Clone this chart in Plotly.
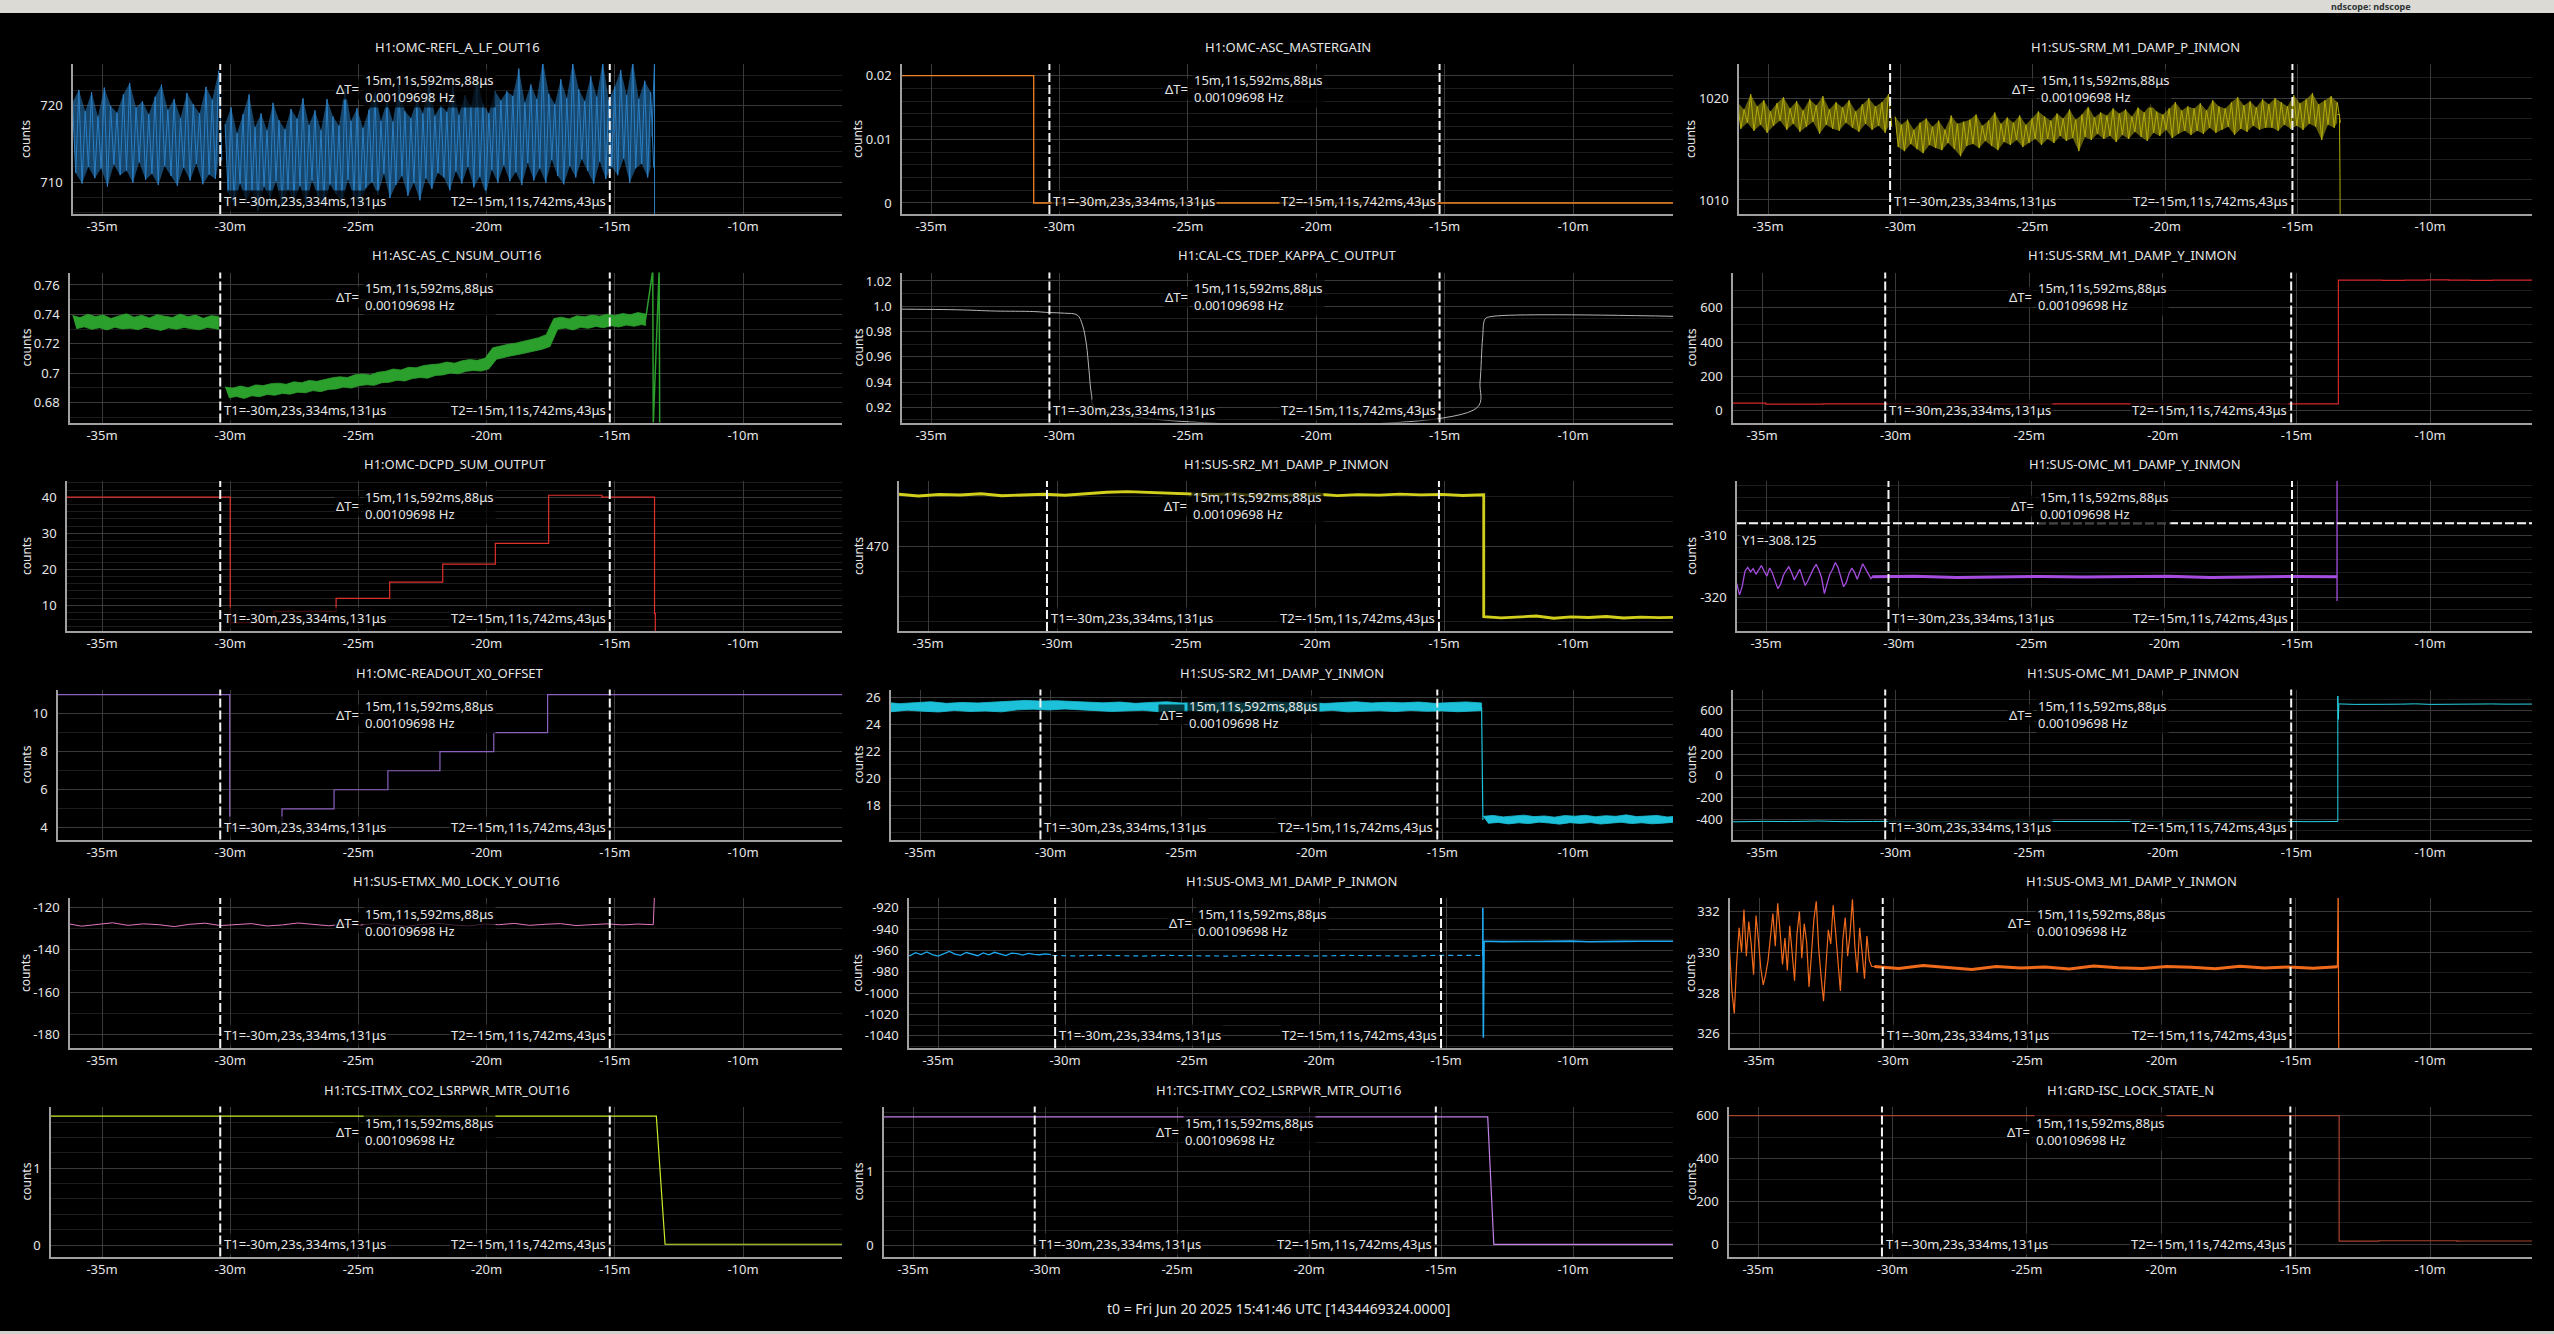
import numpy as np
import plotly.graph_objects as go

W, H = 2554, 1334

# ============================ DATA (time in minutes relative to t0) ============================
T1_MIN = -30.3889   # T1 = -30m,23s,334ms,131us
T2_MIN = -15.1957   # T2 = -15m,11s,742ms,43us
T1_LABEL = "T1=-30m,23s,334ms,131μs"
T2_LABEL = "T2=-15m,11s,742ms,43μs"
DT_LABEL = "15m,11s,592ms,88μs<br>0.00109698 Hz"
Y1_VALUE = -308.125
Y1_LABEL = "Y1=-308.125"
T0_LABEL = "t0 = Fri Jun 20 2025 15:41:46 UTC [1434469324.0000]"

X_TICK_VALS = [-35, -30, -25, -20, -15, -10]
X_TICK_TEXT = ["-35m", "-30m", "-25m", "-20m", "-15m", "-10m"]

TITLES = ["H1:OMC-REFL_A_LF_OUT16", "H1:OMC-ASC_MASTERGAIN", "H1:SUS-SRM_M1_DAMP_P_INMON",
          "H1:ASC-AS_C_NSUM_OUT16", "H1:CAL-CS_TDEP_KAPPA_C_OUTPUT", "H1:SUS-SRM_M1_DAMP_Y_INMON",
          "H1:OMC-DCPD_SUM_OUTPUT", "H1:SUS-SR2_M1_DAMP_P_INMON", "H1:SUS-OMC_M1_DAMP_Y_INMON",
          "H1:OMC-READOUT_X0_OFFSET", "H1:SUS-SR2_M1_DAMP_Y_INMON", "H1:SUS-OMC_M1_DAMP_P_INMON",
          "H1:SUS-ETMX_M0_LOCK_Y_OUT16", "H1:SUS-OM3_M1_DAMP_P_INMON", "H1:SUS-OM3_M1_DAMP_Y_INMON",
          "H1:TCS-ITMX_CO2_LSRPWR_MTR_OUT16", "H1:TCS-ITMY_CO2_LSRPWR_MTR_OUT16", "H1:GRD-ISC_LOCK_STATE_N"]

Y_TICK_TEXT = [["710", "720"], ["0", "0.01", "0.02"], ["1010", "1020"],
               ["0.68", "0.7", "0.72", "0.74", "0.76"], ["0.92", "0.94", "0.96", "0.98", "1.0", "1.02"],
               ["0", "200", "400", "600"],
               ["10", "20", "30", "40"], ["470"], ["-320", "-310"],
               ["4", "6", "8", "10"], ["18", "20", "22", "24", "26"], ["-400", "-200", "0", "200", "400", "600"],
               ["-180", "-160", "-140", "-120"], ["-1040", "-1020", "-1000", "-980", "-960", "-940", "-920"],
               ["326", "328", "330", "332"],
               ["0", "1"], ["0", "1"], ["0", "200", "400", "600"]]

Y_RANGES = [[705.8, 725.5], [-0.00173, 0.02184], [1008.62, 1023.37],
            [0.6664, 0.7685], [0.908, 1.0267], [-69, 805],
            [2.86, 44.5], [463.2, 475.2], [-325.4, -301.33],
            [3.385, 11.27], [15.46, 26.6], [-586, 795],
            [-186.4, -115.6], [-1051.5, -910.9], [325.3, 332.66],
            [-0.15, 1.806], [-0.145, 1.88], [-57.4, 642.5]]

# --- H1:OMC-REFL_A_LF_OUT16 (per-bin high / low extremes)
refl_a_hi = [720.5, 722.1, 719.3, 721.8, 718.6, 722.4, 720.0, 719.1, 721.5, 723.0, 719.8, 720.6,
             718.9, 721.2, 722.8, 719.5, 720.9, 718.4, 721.7, 720.2, 719.0, 722.5, 720.8, 724.6]
refl_a_lo = [711.2, 709.8, 712.0, 710.5, 711.8, 709.4, 712.3, 710.9, 711.5, 709.9, 712.6, 710.3,
             711.1, 709.6, 712.1, 710.8, 709.5, 711.9, 710.2, 712.4, 709.7, 711.0, 710.4, 712.8]
refl_b_hi = [717.6, 719.8, 716.4, 718.9, 721.5, 717.2, 719.0, 716.8, 720.4, 718.1, 716.9, 719.6,
             718.3, 721.0, 717.5, 719.4, 716.8, 720.9, 718.6, 717.4, 722.3, 718.0, 719.7, 717.1,
             719.5, 721.8, 718.0, 720.6, 717.9, 722.9, 719.3, 718.4, 720.8, 719.0, 723.4, 718.7,
             720.1, 719.2, 722.6, 718.8, 721.4, 719.9, 723.8, 720.3, 719.0, 722.0, 720.7, 721.9,
             721.3, 724.9, 720.4, 722.8, 720.9, 726.0, 721.6, 720.2, 723.5, 721.0, 725.8, 722.2,
             720.6, 723.9, 721.2, 725.9, 720.8, 722.5, 724.7, 721.4, 726.0, 720.9, 723.3, 721.8]
refl_b_lo = [708.6, 706.9, 709.8, 707.5, 708.9, 706.2, 709.4, 707.8, 710.1, 706.7, 709.0, 707.3,
             709.5, 707.0, 710.2, 708.1, 706.8, 709.7, 708.4, 707.2, 710.3, 708.0, 706.9, 709.2,
             710.0, 708.3, 711.1, 707.9, 709.6, 710.8, 708.2, 709.9, 707.6, 710.5, 709.1, 711.2,
             710.6, 708.9, 711.4, 709.8, 712.0, 709.3, 710.7, 708.4, 711.6, 709.9, 712.2, 710.1,
             711.3, 709.6, 712.5, 710.2, 711.8, 709.9, 712.9, 710.8, 709.7, 712.1, 710.6, 713.0,
             711.5, 709.8, 712.7, 710.4, 712.0, 710.9, 713.1, 709.9, 711.8, 712.4, 710.6, 711.9]
refl_end_t = [-13.55, -13.45, -13.45]
refl_end_v = [716.0, 726.0, 705.5]

# --- H1:OMC-ASC_MASTERGAIN
gain_t = [-37.0, -31.0, -6.0]
gain_v = [0.02, 0.0, 0.0]

# --- H1:SUS-SRM_M1_DAMP_P_INMON
srmp_a_hi = [1019.6, 1018.9, 1020.4, 1019.2, 1019.8, 1018.7, 1019.5, 1020.1, 1019.0, 1019.7, 1018.8, 1019.9,
             1019.3, 1020.2, 1018.9, 1019.6, 1019.1, 1019.8, 1018.7, 1019.4, 1020.0, 1019.2, 1019.6, 1020.4]
srmp_a_lo = [1017.0, 1017.6, 1016.8, 1017.4, 1016.6, 1017.3, 1017.8, 1016.9, 1017.5, 1016.7, 1017.2, 1017.7,
             1016.5, 1017.4, 1017.0, 1016.8, 1017.6, 1017.1, 1016.7, 1017.5, 1016.9, 1017.3, 1016.6, 1017.2]
srmp_b_hi = [1018.2, 1017.4, 1017.9, 1016.9, 1017.6, 1018.0, 1017.2, 1017.8, 1016.9, 1018.3, 1017.5, 1017.7,
             1017.9, 1018.4, 1017.3, 1017.8, 1018.6, 1017.5, 1018.1, 1017.6, 1018.3, 1017.4, 1018.0, 1018.7,
             1018.2, 1017.8, 1018.5, 1018.0, 1018.9, 1017.9, 1018.4, 1019.2, 1018.1, 1018.6, 1018.3, 1019.0,
             1018.5, 1018.9, 1018.2, 1019.1, 1018.6, 1019.4, 1018.7, 1018.4, 1019.0, 1019.6, 1018.8, 1019.2,
             1019.0, 1019.5, 1018.8, 1019.8, 1019.2, 1019.0, 1019.6, 1020.1, 1019.3, 1019.7, 1019.1, 1019.9,
             1019.4, 1020.0, 1019.6, 1019.2, 1020.3, 1019.5, 1019.9, 1020.5, 1019.4, 1019.8, 1020.2, 1019.6]
srmp_b_lo = [1015.2, 1014.8, 1015.5, 1015.0, 1014.6, 1015.4, 1015.1, 1014.9, 1015.6, 1015.0, 1014.3, 1015.3,
             1015.5, 1015.1, 1015.8, 1015.3, 1014.9, 1015.7, 1015.4, 1015.9, 1015.2, 1015.6, 1016.0, 1015.4,
             1016.0, 1015.6, 1016.3, 1015.8, 1016.1, 1014.8, 1016.2, 1015.9, 1016.5, 1016.0, 1016.3, 1015.7,
             1016.4, 1016.0, 1016.7, 1016.2, 1015.8, 1016.6, 1016.3, 1016.9, 1016.1, 1016.5, 1016.8, 1016.4,
             1016.8, 1016.5, 1017.1, 1016.6, 1016.9, 1017.2, 1016.4, 1017.0, 1016.7, 1017.3, 1016.9, 1017.1,
             1017.1, 1016.8, 1017.4, 1017.0, 1017.3, 1016.9, 1017.5, 1017.2, 1015.9, 1017.4, 1017.1, 1017.6]
srmp_end_t = [-13.5, -13.42, -13.40, -13.38]
srmp_end_v = [1018.4, 1018.4, 1012.6, 1000.0]

# --- H1:ASC-AS_C_NSUM_OUT16
nsum_a_hi = [0.7392, 0.7378, 0.7401, 0.7385, 0.7396, 0.7372, 0.7389, 0.7404, 0.7381, 0.7394,
             0.7376, 0.7398, 0.7387, 0.7379, 0.7402, 0.7384, 0.7395, 0.7373, 0.7391, 0.7386]
nsum_a_lo = [0.7302, 0.7315, 0.7298, 0.7309, 0.7294, 0.7312, 0.7301, 0.7306, 0.7296, 0.7313,
             0.7303, 0.7291, 0.7308, 0.7299, 0.7311, 0.7302, 0.7295, 0.7310, 0.7304, 0.7297]
nsum_b_hi = [0.6905, 0.6898, 0.6912, 0.6901, 0.6920, 0.6915, 0.6928,
             0.6932, 0.6924, 0.6941, 0.6935, 0.6950, 0.6944, 0.6958,
             0.6968, 0.6975, 0.6970, 0.6989, 0.6994, 0.6987, 0.7006,
             0.7012, 0.7028, 0.7021, 0.7040, 0.7036, 0.7052, 0.7058,
             0.7063, 0.7075, 0.7068, 0.7084, 0.7092, 0.7087, 0.7101,
             0.7172, 0.7185, 0.7196, 0.7204, 0.7215, 0.7228,
             0.7241, 0.7262,
             0.7372, 0.7381, 0.7369, 0.7390, 0.7384, 0.7395, 0.7388, 0.7401, 0.7392, 0.7406, 0.7398, 0.7412, 0.7403]
nsum_b_lo = [0.6832, 0.6841, 0.6828, 0.6846, 0.6839, 0.6855, 0.6849,
             0.6862, 0.6857, 0.6870, 0.6866, 0.6881, 0.6874, 0.6889,
             0.6892, 0.6905, 0.6898, 0.6914, 0.6921, 0.6917, 0.6935,
             0.6938, 0.6952, 0.6946, 0.6963, 0.6970, 0.6966, 0.6984,
             0.6988, 0.7001, 0.6995, 0.7012, 0.7018, 0.7014, 0.7029,
             0.7095, 0.7108, 0.7119, 0.7128, 0.7137, 0.7151,
             0.7163, 0.7181,
             0.7298, 0.7307, 0.7294, 0.7312, 0.7305, 0.7318, 0.7309, 0.7323, 0.7314, 0.7327, 0.7319, 0.7331, 0.7324]
nsum_end_t = [-13.8, -13.52, -13.50, -13.27, -13.25]
nsum_end_v = [0.7365, 0.770, 0.665, 0.770, 0.665]

# --- H1:CAL-CS_TDEP_KAPPA_C_OUTPUT
kappa_t = [-37.0, -34.0, -32.5, -31.0, -30.4, -29.8, -29.3, -29.1, -28.95, -28.85, -28.75, -28.6,
           -13.75, -13.62, -13.52, -13.42, -13.2, -6.0]
kappa_v = [0.9978, 0.9972, 0.9962, 0.9958, 0.9950, 0.9945, 0.9930, 0.9850, 0.9700, 0.9500, 0.9300, 0.9195,
           0.9195, 0.9400, 0.9750, 0.9900, 0.9918, 0.9920]

# --- H1:SUS-SRM_M1_DAMP_Y_INMON
srmy_pre = [44, 38, 40, 39, 41, 38, 40, 39, 40, 41, 39, 40]
srmy_post = [760, 761, 759, 760, 762, 760, 759, 761, 760, 760]

# --- H1:OMC-DCPD_SUM_OUTPUT (step changes)
dcpd_t = [-37.0, -30.0, -28.3, -25.87, -23.78, -21.71, -19.66, -17.58, -15.5, -13.45, -13.42]
dcpd_v = [40.0, 5.2, 8.33, 11.94, 16.4, 21.4, 27.2, 40.55, 40.0, 7.7, -5.0]

# --- H1:SUS-SR2_M1_DAMP_P_INMON
sr2p_pre = [474.05, 474.15, 474.0, 474.12, 474.08, 474.18, 474.02, 474.1, 474.14, 474.06, 474.2, 474.3,
            474.35, 474.28, 474.22, 474.15, 474.1, 474.18, 474.05, 474.12, 474.08, 474.16, 474.03, 474.11,
            474.07, 474.15, 474.09, 474.13, 474.04, 474.1]
sr2p_post = [464.35, 464.25, 464.3, 464.4, 464.22, 464.33, 464.28, 464.36, 464.24, 464.31, 464.27, 464.3]

# --- H1:SUS-OMC_M1_DAMP_Y_INMON
omcy_pre = [-317.8, -319.6, -318.2, -315.8, -315.2, -315.9, -315.4, -316.3, -315.6, -314.9,
            -315.8, -316.6, -315.3, -316.1, -317.4, -318.6, -317.9, -316.5, -315.7, -315.1,
            -316.0, -317.2, -316.4, -315.5, -316.8, -318.1, -317.3, -316.2, -315.4, -314.7,
            -315.6, -316.9, -319.4, -317.8, -316.3, -315.5, -314.4, -315.2, -316.7, -318.3,
            -317.6, -316.2, -315.3, -316.0, -317.1, -315.8, -314.6, -315.4, -316.2, -317.0]
omcy_flat = [-316.7, -316.6, -316.8, -316.7, -316.65, -316.75, -316.7, -316.6, -316.8, -316.7, -316.65, -316.7]
omcy_end_t = [-13.5, -13.5]
omcy_end_v = [-299.0, -320.6]

# --- H1:OMC-READOUT_X0_OFFSET (step changes)
readout_t = [-37.0, -30.02, -27.98, -25.95, -23.85, -21.82, -19.72, -17.62, -6.0]
readout_v = [11, 4, 5, 6, 7, 8, 9, 11, 11]

# --- H1:SUS-SR2_M1_DAMP_Y_INMON
sr2y_pre_hi = [25.58, 25.66, 25.55, 25.62, 25.69, 25.57, 25.64, 25.6, 25.68, 25.72, 25.79, 25.74, 25.77, 25.71,
               25.65, 25.61, 25.67, 25.57, 25.64, 25.69, 25.59, 25.65, 25.62, 25.7, 25.58, 25.64, 25.68, 25.6,
               25.66, 25.56, 25.63, 25.69, 25.6, 25.65, 25.61, 25.67, 25.57, 25.64, 25.68, 25.6]
sr2y_pre_lo = [25.02, 24.95, 25.06, 24.99, 24.93, 25.04, 24.97, 25.0, 24.94, 25.09, 25.14, 25.08, 25.15, 25.1,
               25.03, 24.97, 25.01, 25.05, 24.95, 24.99, 25.04, 24.96, 25.0, 24.93, 25.06, 24.98, 24.95, 25.03,
               24.97, 25.05, 24.94, 24.99, 25.02, 24.96, 25.04, 24.98, 25.01, 24.95, 25.0, 25.03]
sr2y_post_hi = [17.18, 17.25, 17.14, 17.22, 17.27, 17.16, 17.21, 17.12, 17.24, 17.19,
                17.26, 17.15, 17.23, 17.18, 17.29, 17.16, 17.21, 17.25, 17.13, 17.2]
sr2y_post_lo = [16.66, 16.73, 16.62, 16.7, 16.64, 16.75, 16.68, 16.6, 16.71, 16.65,
                16.72, 16.61, 16.69, 16.74, 16.64, 16.7, 16.63, 16.67, 16.73, 16.66]
sr2y_jump_t = [-13.5, -13.45]
sr2y_jump_v = [25.3, 16.9]

# --- H1:SUS-OMC_M1_DAMP_P_INMON
omcp_pre = [-418, -423, -419, -421, -416, -422, -420, -418, -424, -419, -421, -417,
            -420, -422, -418, -421, -419, -423, -420, -418, -421, -419, -422, -420]
omcp_jump_t = [-13.45, -13.45, -13.43, -13.41]
omcp_jump_v = [-420, 735, 520, 665]
omcp_post = [662, 658, 661, 659, 660, 663, 658, 660, 661, 659, 662, 660, 658, 661]

# --- H1:SUS-ETMX_M0_LOCK_Y_OUT16
etmx_vals = [-128.4, -127.6, -128.9, -128.0, -127.3, -128.5, -127.8, -128.2, -129.1, -128.0,
             -127.5, -128.6, -128.1, -127.7, -128.8, -128.3, -127.4, -128.0, -128.7, -127.9,
             -128.4, -127.6, -128.2, -129.0, -128.1, -127.5, -128.3, -128.8, -127.9, -128.2,
             -127.6, -128.5, -128.0, -127.7, -128.6, -128.1, -127.8, -128.3, -127.9, -128.2]
etmx_end_t = [-13.43]
etmx_end_v = [-108.0]

# --- H1:SUS-OM3_M1_DAMP_P_INMON
om3p_pre = [-962.5, -964.8, -961.9, -963.7, -965.1, -962.2, -964.0, -961.5, -963.9, -965.3,
            -962.8, -960.9, -963.4, -964.6, -962.0, -963.8, -965.0, -962.4, -964.2, -961.8,
            -963.6, -964.9, -962.6, -963.1, -964.4, -962.9, -963.7, -964.1, -963.3, -964.0]
om3p_mid = [-964.8, -965.2, -964.6, -965.0, -965.3, -964.7, -965.1, -964.9, -965.4, -964.6,
            -965.0, -964.8, -965.2, -964.7, -965.1, -964.9, -965.3, -964.6, -965.0, -964.8]
om3p_jump_t = [-13.55, -13.55, -13.53, -13.5]
om3p_jump_v = [-965.0, -920.0, -1042.0, -952.0]
om3p_post = [-951.5, -951.8, -951.4, -951.7, -951.6, -951.3, -951.9, -951.5, -951.6, -951.4, -951.7, -951.5]

# --- H1:SUS-OM3_M1_DAMP_Y_INMON
om3y_pre = [330.2, 328.1, 327.0, 329.5, 331.2, 330.0, 332.1, 329.8, 331.5, 330.4,
            328.9, 331.8, 330.6, 329.2, 328.4, 328.9, 329.6, 330.8, 331.9, 330.3,
            332.4, 331.0, 329.4, 330.7, 329.1, 331.3, 330.1, 328.6, 330.9, 332.0,
            329.7, 331.4, 330.5, 328.3, 329.9, 331.6, 332.5, 330.2, 328.8, 327.6,
            329.3, 331.1, 330.4, 332.3, 331.0, 329.5, 328.1, 330.6, 331.7, 329.8,
            330.9, 332.6, 330.3, 329.0, 331.2, 330.0, 328.7, 330.8, 329.6, 329.3]
om3y_flat = [329.3, 329.2, 329.35, 329.25, 329.15, 329.3, 329.22, 329.28, 329.18, 329.32,
             329.24, 329.2, 329.3, 329.26, 329.19, 329.31, 329.23, 329.27, 329.21, 329.29]
om3y_end_t = [-13.42, -13.40]
om3y_end_v = [333.5, 325.0]

# --- H1:TCS-ITMX / ITMY CO2 laser power
itmx_t = [-37.2, -13.38, -13.04, -6.0]
itmx_v = [1.68, 1.68, 0.01, 0.01]
itmy_t = [-37.2, -13.23, -13.0, -6.0]
itmy_v = [1.74, 1.74, 0.02, 0.02]

# --- H1:GRD-ISC_LOCK_STATE_N
grd_t = [-37.2, -13.40, -13.38, -12.0, -11.9, -9.0, -8.9, -6.0]
grd_v = [600, 600, 14, 14, 16, 14, 15, 14]

COLORS = ["#2a7fc4", "#f08424", "#b3ab0c",
          "#2ca02c", "#b4b4b4", "#d62728",
          "#e0302c", "#d2ce1c", "#a64de0",
          "#8c60c0", "#1cc0d8", "#27d3e6",
          "#e377c2", "#1fa8ee", "#f06a1c",
          "#c8ee2a", "#c080e8", "#a8432f"]

# ============================ LAYOUT GEOMETRY (pixels) ============================
LEFT_PX = [73, 902, 1739, 70, 902, 1733, 67, 899, 1737, 58, 891, 1733, 70, 909, 1730, 51, 884, 1729]
RIGHT_PX = [842, 1673, 2532]
T10_PX = [743, 1573, 2430]
TOP0, PLOT_H, PITCH = 64.0, 150.0, 208.5
COUNTS_X = [26, 858, 1691]

BG = "#000000"
TXT = "#e6e6e6"
GRID = "#3a3a3a"
MINOR = "#1c1c1c"
AXC = "#a0a0a0"
FONT = "Noto Sans"


def series(t0, t1, vals):
    return list(np.linspace(t0, t1, len(vals))), list(vals)


def band(t0, t1, hi, lo):
    """closed outline of the per-bin max (forward) and min (backward) values"""
    n = min(len(hi), len(lo))
    t = np.linspace(t0, t1, n)
    half = (t1 - t0) / (n - 1) / 2.0
    tl = [min(tt + half, t1) for tt in t]
    return list(t) + tl[::-1], list(hi[:n]) + list(lo[:n])[::-1]


def zigzag(t0, t1, hi, lo):
    """max / min of each bin visited in turn"""
    n = min(len(hi), len(lo))
    t = np.linspace(t0, t1, n)
    half = (t1 - t0) / (n - 1) / 2.0
    xs, ys = [], []
    for k in range(n):
        xs += [t[k], t[k] + half]
        ys += [hi[k], lo[k]]
    return xs, ys


def join(*segs):
    xs, ys = [], []
    for sx, sy in segs:
        xs += list(sx)
        ys += list(sy)
    return xs, ys


# traces per panel: (x, y, width, dash, shape, fill opacity or None)
P = [[] for _ in range(18)]
P[0].append(band(-36.15, -30.45, refl_a_hi, refl_a_lo) + (0.0, None, "linear", 0.55))
P[0].append(band(-30.2, -13.6, refl_b_hi, refl_b_lo) + (0.0, None, "linear", 0.55))
P[0].append(zigzag(-36.15, -30.45, refl_a_hi, refl_a_lo) + (1.0, None, "linear", None))
P[0].append(zigzag(-30.2, -13.6, refl_b_hi, refl_b_lo) + (1.0, None, "linear", None))
P[0].append((refl_end_t, refl_end_v, 1.0, None, "linear", None))
P[1].append((gain_t, gain_v, 1.3, None, "hv", None))
P[2].append(band(-36.15, -30.45, srmp_a_hi, srmp_a_lo) + (0.0, None, "linear", 0.55))
P[2].append(band(-30.2, -13.5, srmp_b_hi, srmp_b_lo) + (0.0, None, "linear", 0.55))
P[2].append(zigzag(-36.15, -30.45, srmp_a_hi, srmp_a_lo) + (1.0, None, "linear", None))
P[2].append(zigzag(-30.2, -13.5, srmp_b_hi, srmp_b_lo) + (1.0, None, "linear", None))
P[2].append((srmp_end_t, srmp_end_v, 1.0, None, "linear", None))
P[3].append(band(-36.15, -30.45, nsum_a_hi, nsum_a_lo) + (0.8, None, "linear", 1.0))
P[3].append(band(-30.2, -13.8, nsum_b_hi, nsum_b_lo) + (0.8, None, "linear", 1.0))
P[3].append((nsum_end_t, nsum_end_v, 1.5, None, "linear", None))
P[4].append((kappa_t, kappa_v, 1.0, None, "spline", None))
P[5].append(join(series(-37.0, -13.43, srmy_pre), series(-13.43, -6.0, srmy_post)) + (1.2, None, "hv", None))
P[6].append((dcpd_t, dcpd_v, 1.2, None, "hv", None))
P[7].append(join(series(-37.0, -13.46, sr2p_pre), series(-13.46, -6.0, sr2p_post)) + (2.8, None, "linear", None))
P[8].append(join(series(-36.1, -31.05, omcy_pre), series(-31.0, -13.5, omcy_flat),
                 (omcy_end_t, omcy_end_v)) + (1.3, None, "linear", None))
P[8].append(series(-31.0, -13.5, omcy_flat) + (3.0, None, "linear", None))
P[9].append((readout_t, readout_v, 1.2, None, "hv", None))
P[10].append(band(-37.0, -13.5, sr2y_pre_hi, sr2y_pre_lo) + (0.8, None, "linear", 1.0))
P[10].append(band(-13.45, -6.0, sr2y_post_hi, sr2y_post_lo) + (0.8, None, "linear", 1.0))
P[10].append((sr2y_jump_t, sr2y_jump_v, 1.2, None, "linear", None))
P[11].append(join(series(-37.0, -13.47, omcp_pre), (omcp_jump_t, omcp_jump_v),
                  series(-13.38, -6.0, omcp_post)) + (1.0, None, "linear", None))
P[12].append(join(series(-37.0, -13.5, etmx_vals), (etmx_end_t, etmx_end_v)) + (1.0, None, "linear", None))
P[13].append(series(-37.0, -30.55, om3p_pre) + (1.3, None, "linear", None))
P[13].append(series(-30.5, -13.6, om3p_mid) + (1.2, "5px,4px", "linear", None))
P[13].append(join((om3p_jump_t, om3p_jump_v), series(-13.48, -6.0, om3p_post)) + (1.6, None, "linear", None))
P[14].append(join(series(-36.1, -30.8, om3y_pre), series(-30.7, -13.45, om3y_flat),
                  (om3y_end_t, om3y_end_v)) + (1.2, None, "linear", None))
P[14].append(series(-30.7, -13.45, om3y_flat) + (3.0, None, "linear", None))
P[15].append((itmx_t, itmx_v, 1.2, None, "linear", None))
P[16].append((itmy_t, itmy_v, 1.2, None, "linear", None))
P[17].append((grd_t, grd_v, 1.2, None, "hv", None))

fig = go.Figure()
layout = dict(width=W, height=H, margin=dict(l=0, r=0, t=0, b=0), paper_bgcolor=BG, plot_bgcolor=BG,
              showlegend=False, font=dict(family=FONT, color=TXT, size=13))
annotations = []
shapes = []
lab_bg = "rgba(0,0,0,0.72)"

for i in range(18):
    r, c = divmod(i, 3)
    n = "" if i == 0 else str(i + 1)
    xa, ya = "x" + n, "y" + n
    L = LEFT_PX[i]
    R = RIGHT_PX[c]
    t35 = 102 if c == 0 else L + 29
    t10 = T10_PX[c]
    ppm = (t10 - t35) / 25.0
    xr = [-35 - (t35 - L) / ppm, -10 + (R - t10) / ppm]
    top = TOP0 + PITCH * r
    bot = top + PLOT_H

    layout["xaxis" + n] = dict(domain=[L / W, R / W], range=xr, anchor=ya, tickmode="array",
                               tickvals=X_TICK_VALS, ticktext=X_TICK_TEXT, showgrid=True, gridcolor=GRID,
                               gridwidth=1, zeroline=False, showline=True, linecolor=AXC, linewidth=1.5,
                               ticks="", tickfont=dict(size=13, color=TXT, family=FONT), fixedrange=True)
    tv = [float(s) for s in Y_TICK_TEXT[i]]
    minor_d = [2, 0.002, 2, 0.01, 0.01, 100, 2, 2, 2, 1, 1, 100, 10, 10, 1, 0.2, 0.2, 100][i]
    layout["yaxis" + n] = dict(domain=[1 - bot / H, 1 - top / H], range=Y_RANGES[i], anchor=xa,
                               tickmode="array", tickvals=tv, ticktext=Y_TICK_TEXT[i], showgrid=True,
                               gridcolor=GRID, gridwidth=1, zeroline=False, showline=True, linecolor=AXC,
                               linewidth=1.5, ticks="", ticklabelstandoff=6,
                               tickfont=dict(size=13, color=TXT, family=FONT), fixedrange=True,
                               minor=dict(tickmode="linear", tick0=0, dtick=minor_d, showgrid=True,
                                          gridcolor=MINOR, gridwidth=1, ticks=""))

    for (x, y, w, dash, shp, fop) in P[i]:
        if fop is not None:
            fig.add_trace(go.Scatter(x=x, y=y, mode="lines", xaxis=xa, yaxis=ya, hoverinfo="skip",
                                     fill="toself", fillcolor=COLORS[i], opacity=fop,
                                     line=dict(color=COLORS[i], width=w)))
        else:
            fig.add_trace(go.Scatter(x=x, y=y, mode="lines", xaxis=xa, yaxis=ya, hoverinfo="skip",
                                     line=dict(color=COLORS[i], width=w, dash=dash, shape=shp)))

    annotations.append(dict(text=TITLES[i], xref=xa + " domain", yref=ya + " domain", x=0.5, y=1,
                            xanchor="center", yanchor="bottom", yshift=6, showarrow=False,
                            font=dict(size=13, color=TXT, family=FONT)))
    annotations.append(dict(text="counts", xref="paper", yref="paper", x=COUNTS_X[c] / W,
                            y=1 - (top + PLOT_H / 2) / H, xanchor="center", yanchor="middle",
                            textangle=-90, showarrow=False, font=dict(size=12, color=TXT, family=FONT)))
    for tc in (T1_MIN, T2_MIN):
        shapes.append(dict(type="line", xref=xa, yref=ya + " domain", x0=tc, x1=tc, y0=0, y1=1,
                           line=dict(color="#f4f4f4", width=2, dash="9px,3px"), layer="above"))
    annotations.append(dict(text=T1_LABEL, xref=xa, yref=ya + " domain", x=T1_MIN, y=0, xanchor="left",
                            yanchor="bottom", xshift=2, yshift=2, showarrow=False, bgcolor=lab_bg,
                            borderpad=1, font=dict(size=13, color=TXT, family=FONT)))
    annotations.append(dict(text=T2_LABEL, xref=xa, yref=ya + " domain", x=T2_MIN, y=0, xanchor="right",
                            yanchor="bottom", xshift=-2, yshift=2, showarrow=False, bgcolor=lab_bg,
                            borderpad=1, font=dict(size=13, color=TXT, family=FONT)))
    mid = (T1_MIN + T2_MIN) / 2
    annotations.append(dict(text=DT_LABEL, xref=xa, yref=ya + " domain", x=mid, y=1, xanchor="left",
                            yanchor="top", xshift=-52, yshift=-5, showarrow=False, align="left",
                            bgcolor=lab_bg, borderpad=1, font=dict(size=13, color=TXT, family=FONT)))
    annotations.append(dict(text="ΔT=", xref=xa, yref=ya + " domain", x=mid, y=1, xanchor="right",
                            yanchor="middle", xshift=-54, yshift=-25, showarrow=False,
                            bgcolor=lab_bg, borderpad=1, font=dict(size=13, color=TXT, family=FONT)))
    if i == 8:
        shapes.append(dict(type="line", xref=xa + " domain", yref=ya, x0=0, x1=1, y0=Y1_VALUE, y1=Y1_VALUE,
                           line=dict(color="#f4f4f4", width=2, dash="9px,3px"), layer="above"))
        annotations.append(dict(text=Y1_LABEL, xref=xa + " domain", yref=ya, x=0, y=Y1_VALUE,
                                xanchor="left", yanchor="top", xshift=3, yshift=-6, showarrow=False,
                                bgcolor=lab_bg, borderpad=1, font=dict(size=13, color=TXT, family=FONT)))

# window chrome
shapes.append(dict(type="rect", xref="paper", yref="paper", x0=0, x1=1, y0=1 - 13 / H, y1=1,
                   fillcolor="#dcdad5", line=dict(width=0), layer="below"))
shapes.append(dict(type="rect", xref="paper", yref="paper", x0=0, x1=1, y0=0, y1=3 / H,
                   fillcolor="#d0cfcc", line=dict(width=0), layer="below"))
annotations.append(dict(text="<b>ndscope: ndscope</b>", xref="paper", yref="paper", x=2330 / W, y=1 - 6.5 / H,
                        xanchor="left", yanchor="middle", showarrow=False, borderpad=0,
                        font=dict(size=9, color="#2e3436", family=FONT)))
# footer
annotations.append(dict(text=T0_LABEL, xref="paper", yref="paper", x=1278 / W, y=1 - 1308 / H,
                        xanchor="center", yanchor="middle", showarrow=False,
                        font=dict(size=14, color=TXT, family=FONT)))

layout["annotations"] = annotations
layout["shapes"] = shapes
fig.update_layout(**layout)
fig.write_html("out.html", config={"displayModeBar": False},
               post_script="document.body.style.margin='0';document.body.style.overflow='hidden';")
